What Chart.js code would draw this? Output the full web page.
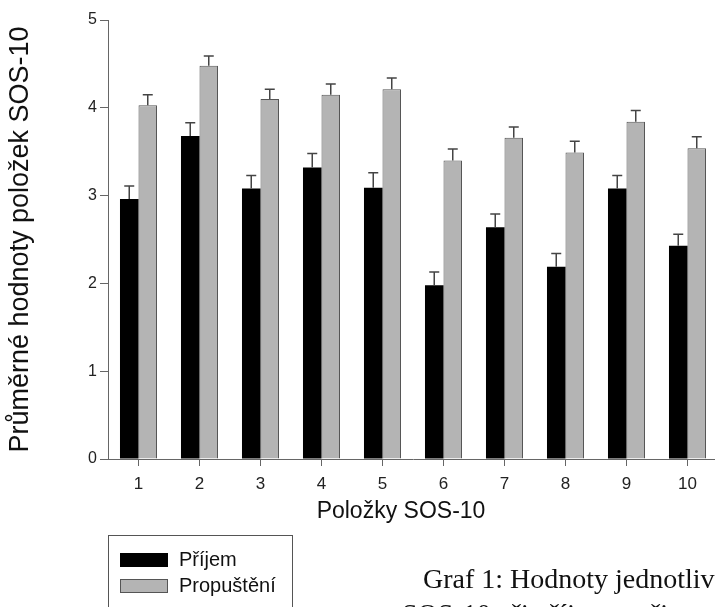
<!DOCTYPE html>
<html>
<head>
<meta charset="utf-8">
<script src="https://cdn.jsdelivr.net/npm/chart.js@4/dist/chart.umd.min.js"></script>
<style>
  html, body { margin: 0; padding: 0; background: #fff; overflow: hidden; }
  body { width: 715px; height: 607px; }
  .wrap { width: 730px; height: 607px; position: relative; }
</style>
</head>
<body>
<div class="wrap"><canvas id="bar-chart"></canvas></div>
<script>
'use strict';

// data
var labels = ['1', '2', '3', '4', '5', '6', '7', '8', '9', '10'];
var prijem = [2.96, 3.68, 3.08, 3.32, 3.09, 1.98, 2.64, 2.19, 3.08, 2.43];
var prijemErr = [0.15, 0.15, 0.15, 0.16, 0.17, 0.15, 0.15, 0.15, 0.15, 0.13];
var propusteni = [4.03, 4.48, 4.10, 4.15, 4.21, 3.40, 3.66, 3.49, 3.84, 3.54];
var propusteniErr = [0.12, 0.11, 0.11, 0.12, 0.13, 0.13, 0.12, 0.13, 0.13, 0.13];
var yMin = 0, yMax = 5, yStep = 1;

var xTitle = 'Položky SOS-10';
var captionLines = ['Graf 1: Hodnoty jednotlivých položek', 'SOS-10 při příjmu a při propuštění'];

var sans = '"Liberation Sans", Arial, sans-serif';
var axisColor = '#666';

// error bars (upper whisker only)
var errorBars = {
    id: 'errorBars',
    afterDatasetsDraw: function (chart) {
        var ctx = chart.ctx, y = chart.scales.y;
        chart.data.datasets.forEach(function (ds, i) {
            chart.getDatasetMeta(i).data.forEach(function (bar, j) {
                var top = y.getPixelForValue(ds.data[j] + ds.errors[j]);
                ctx.save();
                ctx.strokeStyle = '#444';
                ctx.lineWidth = 1.5;
                ctx.beginPath();
                ctx.moveTo(bar.x, bar.y);
                ctx.lineTo(bar.x, top);
                ctx.moveTo(bar.x - 5, top);
                ctx.lineTo(bar.x + 5, top);
                ctx.stroke();
                ctx.restore();
            });
        });
    }
};

// x title, boxed legend + figure caption
var legendBox = {
    id: 'legendBox',
    afterDraw: function (chart) {
        var ctx = chart.ctx;
        ctx.save();
        ctx.fillStyle = '#111';
        ctx.font = '23px ' + sans;
        ctx.textAlign = 'center';
        ctx.textBaseline = 'middle';
        ctx.fillText(xTitle, 401, 512);
        ctx.textAlign = 'left';

        ctx.strokeStyle = '#555';
        ctx.lineWidth = 1;
        ctx.strokeRect(108.5, 535.5, 184, 100);
        chart.data.datasets.forEach(function (ds, i) {
            var top = 553 + i * 26;
            ctx.fillStyle = ds.backgroundColor;
            ctx.fillRect(120, top, 48, 14);
            ctx.strokeStyle = ds.borderColor;
            ctx.strokeRect(120.5, top + 0.5, 47, 13);
            ctx.fillStyle = '#111';
            ctx.font = '20px ' + sans;
            ctx.textBaseline = 'middle';
            ctx.fillText(ds.label, 179, top + 7);
        });
        ctx.font = '28px "Liberation Serif", "Times New Roman", serif';
        ctx.fillStyle = '#111';
        ctx.textBaseline = 'alphabetic';
        ctx.fillText(captionLines[0], 423, 588);
        ctx.fillText(captionLines[1], 402, 623);
        ctx.restore();
    }
};

new Chart(document.getElementById('bar-chart'), {
    type: 'bar',
    data: {
        labels: labels,
        datasets: [{
            label: 'Příjem',
            data: prijem,
            errors: prijemErr,
            backgroundColor: '#000000',
            borderColor: '#000000',
            borderWidth: 0
        }, {
            label: 'Propuštění',
            data: propusteni,
            errors: propusteniErr,
            backgroundColor: '#b4b4b4',
            borderColor: '#555555',
            borderWidth: 1
        }]
    },
    options: {
        responsive: true,
        maintainAspectRatio: false,
        animation: false,
        events: [],
        datasets: {
            bar: { categoryPercentage: 0.607, barPercentage: 1.0 }
        },
        layout: { padding: { top: 20, right: 12, bottom: 0, left: 0 } },
        plugins: {
            legend: { display: false },
            tooltip: { enabled: false }
        },
        scales: {
            x: {
                grid: { display: true, drawOnChartArea: false, offset: false, tickLength: 7, color: axisColor },
                border: { color: axisColor, width: 1 },
                ticks: { color: '#222', padding: 8, font: { family: sans, size: 17 } },
                afterFit: function (scale) { scale.height = 148; }
            },
            y: {
                min: yMin,
                max: yMax,
                grid: { display: true, drawOnChartArea: false, tickLength: 8, color: axisColor },
                border: { color: axisColor, width: 1 },
                ticks: { stepSize: yStep, color: '#222', padding: 3, font: { family: sans, size: 16 } },
                title: {
                    display: true,
                    text: 'Průměrné hodnoty položek SOS-10',
                    color: '#111',
                    font: { family: sans, size: 27 },
                    padding: { top: 4, bottom: 0 }
                },
                afterFit: function (scale) { scale.width = 108; }
            }
        }
    },
    plugins: [errorBars, legendBox]
});
</script>
</body>
</html>
